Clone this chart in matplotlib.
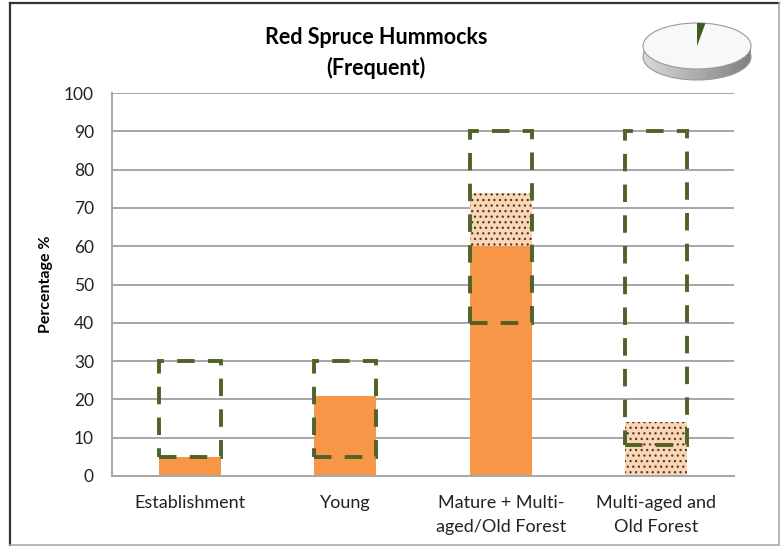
import numpy as np
import matplotlib
matplotlib.use('Agg')
from matplotlib import pyplot as plt
from matplotlib.patches import Ellipse, Polygon

categories = ['Establishment', 'Young', 'Mature + Multi-\naged/Old Forest', 'Multi-aged and\nOld Forest']
solid_vals = [5, 21, 60, 0]          # orange solid part
dotted_bottom = [0, 0, 60, 0]
dotted_vals = [0, 0, 14, 14]         # peach dotted part
range_low = [5, 5, 40, 8]            # dashed box bottom
range_high = [30, 30, 90, 90]        # dashed box top
yticks = list(range(0, 101, 10))
pie_share = [97.5, 2.5]              # small pie icon (other, green)

plt.rcParams['font.family'] = ['Lato', 'DejaVu Sans']
plt.rcParams['hatch.linewidth'] = 0.9

fig = plt.figure(figsize=(7.81, 5.47), dpi=100)
ax = fig.add_axes([112/781, 1-476/547, 622/781, 383/547])

x = np.arange(len(categories))
w = 0.4
ax.bar(x, solid_vals, w, color='#F79646', zorder=2)
ax.bar(x, dotted_vals, w, bottom=dotted_bottom, color='#FCD5B4',
       edgecolor='#4a3c30', linewidth=0, hatch='...', zorder=2)
ax.bar(x, np.array(range_high) - np.array(range_low), w, bottom=range_low,
       fill=False, edgecolor='#4F6228', linewidth=2.8,
       linestyle=(0, (4.5, 3.4)), zorder=3)

ax.set_xlim(-0.5, len(categories) - 0.5)
ax.set_ylim(0, 100)
ax.set_yticks(yticks)
ax.set_xticks(x)
ax.set_xticklabels(categories, fontsize=13, linespacing=1.6)
ax.tick_params(axis='both', length=0, labelsize=12.5, colors='#222222')
ax.tick_params(axis='x', pad=14, labelsize=13)
ax.tick_params(axis='y', pad=13)
ax.yaxis.grid(True, color='#A6A6A6', linewidth=1.4, zorder=0)
ax.set_axisbelow(True)
for s in ['top', 'right']:
    ax.spines[s].set_visible(False)
ax.spines['left'].set_color('#A6A6A6')
ax.spines['bottom'].set_color('#A6A6A6')
ax.spines['left'].set_linewidth(1.4)
ax.spines['bottom'].set_linewidth(1.4)
ax.set_ylabel('Percentage %', fontsize=11.5, fontweight='bold', labelpad=8)

fig.text(376/781, 1-37/547, 'Red Spruce Hummocks', ha='center', va='center',
         fontsize=15.5, fontweight='bold')
fig.text(376/781, 1-68/547, '(Frequent)', ha='center', va='center',
         fontsize=15.5, fontweight='bold')

# overlay axes in pixel units for pie icon and frame
ov = fig.add_axes([0, 0, 1, 1])
ov.set_xlim(0, 781)
ov.set_ylim(547, 0)
ov.axis('off')
ov.patch.set_alpha(0)

cx, cy, pw, ph, depth = 697, 46, 108, 46, 11
side = Polygon([[cx - pw/2, cy], [cx + pw/2, cy], [cx + pw/2, cy + depth],
                [cx - pw/2, cy + depth]], closed=True, facecolor='none', edgecolor='none')
ov.add_patch(side)
bot = Ellipse((cx, cy + depth), pw, ph, facecolor='none', edgecolor='none')
ov.add_patch(bot)
grad = np.tile(np.linspace(0.85, 0.5, 100), (10, 1))
for clip in (bot, side):
    im = ov.imshow(grad, cmap='gray', vmin=0, vmax=1,
                   extent=[cx - pw/2, cx + pw/2, cy + depth + ph/2, cy],
                   aspect='auto', zorder=4)
    im.set_clip_path(clip)
ov.add_patch(Ellipse((cx, cy + depth), pw, ph, facecolor='none', edgecolor='#9a9a9a',
                     linewidth=0.8, zorder=5))
ov.add_patch(Ellipse((cx, cy), pw, ph, facecolor='#F8F8F8', edgecolor='#9a9a9a',
                     linewidth=0.8, zorder=6))
# green slice from top
frac = pie_share[1] / sum(pie_share)
theta = np.linspace(np.pi/2, np.pi/2 - 2*np.pi*frac, 20)
px = np.concatenate([[cx], cx + pw/2*np.cos(theta)])
py = np.concatenate([[cy], cy - ph/2*np.sin(theta)])
ov.add_patch(Polygon(np.column_stack([px, py]), closed=True, facecolor='#3f5a1e',
                     edgecolor='none', zorder=7))

# outer frame
ov.plot([10, 10], [3, 545], color='#333333', linewidth=1.6)
ov.plot([10, 779], [3, 3], color='#333333', linewidth=1.6)
ov.plot([10, 779], [545, 545], color='#AAAAAA', linewidth=1.2)
ov.plot([779, 779], [3, 545], color='#AAAAAA', linewidth=1.2)

fig.savefig('out.png', dpi=100)
